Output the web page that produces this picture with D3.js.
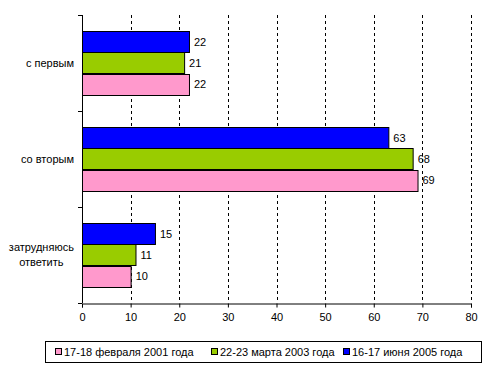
<!DOCTYPE html>
<html>
<head>
<meta charset="utf-8">
<script src="https://cdn.jsdelivr.net/npm/d3@7"></script>
<style>
  body { margin: 0; background: #fff; }
  svg { display: block; font-family: Arial, "Liberation Sans", sans-serif; }
</style>
</head>
<body>
<div id="container"></div>
<script>
const categories = [["с первым"], ["со вторым"], ["затрудняюсь", "ответить"]]
const seriesNames = ["17-18 февраля 2001 года", "22-23 марта 2003 года", "16-17 июня 2005 года"]
const values2001 = [22, 69, 10]
const values2003 = [21, 68, 11]
const values2005 = [22, 63, 15]
const xTicks = [0, 10, 20, 30, 40, 50, 60, 70, 80]
const colors = ["#ff99cc", "#99cc00", "#0000ff"]

const width = 494
const height = 371
const plot = { left: 82, right: 471, top: 15, bottom: 303 }

const series = seriesNames.map((name, i) => ({
  name, color: colors[i], values: [values2001, values2003, values2005][i]
}))

const svg = d3.select('#container').append('svg')
  .attr('width', width)
  .attr('height', height)

const xScale = d3.scaleLinear().domain([0, 80]).range([plot.left, plot.right])
const yScale = d3.scaleBand().domain(d3.range(categories.length)).range([plot.top, plot.bottom])
// bars drawn top to bottom: 2005, 2003, 2001
const inner = d3.scaleBand().domain([2, 1, 0])
  .range([yScale.bandwidth() / 6, yScale.bandwidth() * 5 / 6])

// dashed grid lines
svg.append('g')
  .selectAll('line')
  .data(xTicks.slice(1))
  .enter()
  .append('line')
  .attr('x1', d => Math.round(xScale(d)) + 0.5)
  .attr('x2', d => Math.round(xScale(d)) + 0.5)
  .attr('y1', plot.top)
  .attr('y2', plot.bottom)
  .attr('stroke', '#000')
  .attr('stroke-dasharray', '3,3')

// bars
const groups = svg.append('g')
  .selectAll('g')
  .data(categories)
  .enter()
  .append('g')
  .attr('transform', (d, i) => `translate(0, ${yScale(i)})`)

groups.each(function (cat, ci) {
  const g = d3.select(this)
  series.forEach((s, si) => {
    const v = s.values[ci]
    g.append('rect')
      .attr('x', xScale(0) + 0.5)
      .attr('y', Math.round(inner(si)) + 0.5)
      .attr('width', xScale(v) - xScale(0))
      .attr('height', Math.round(inner.bandwidth()))
      .attr('fill', s.color)
      .attr('stroke', '#000')
      .attr('stroke-width', 1)
    g.append('text')
      .attr('x', xScale(v) + 5)
      .attr('y', inner(si) + inner.bandwidth() / 2)
      .attr('dy', '0.35em')
      .attr('font-size', 11)
      .text(v)
  })
})

// x axis
const xAxis = d3.axisBottom(xScale).tickValues(xTicks).tickSize(4).tickPadding(6)
const xg = svg.append('g')
  .attr('transform', `translate(0, ${plot.bottom + 0.5})`)
  .call(xAxis)
xg.select('.domain').attr('stroke', '#000')
xg.selectAll('text').attr('font-size', 11).attr('font-family', 'Arial, "Liberation Sans", sans-serif')

// y axis line with category separator ticks
const yg = svg.append('g')
yg.append('line')
  .attr('x1', plot.left + 0.5).attr('x2', plot.left + 0.5)
  .attr('y1', plot.top).attr('y2', plot.bottom)
  .attr('stroke', '#000')
yg.selectAll('.sep')
  .data(d3.range(categories.length + 1))
  .enter()
  .append('line')
  .attr('x1', plot.left - 4).attr('x2', plot.left)
  .attr('y1', d => Math.round(plot.top + d * yScale.bandwidth()) + 0.5)
  .attr('y2', d => Math.round(plot.top + d * yScale.bandwidth()) + 0.5)
  .attr('stroke', '#000')

// category labels
categories.forEach((lines, i) => {
  const cy = yScale(i) + yScale.bandwidth() / 2
  const t = svg.append('text')
    .attr('font-size', 11)
    .attr('text-anchor', 'middle')
  lines.forEach((line, li) => {
    t.append('tspan')
      .attr('x', 0)
      .attr('y', cy + (li - (lines.length - 1) / 2) * 15)
      .attr('dy', '0.35em')
      .text(line)
  })
  // right-align the text block, lines centred inside it
  const w = t.node().getBBox().width
  t.attr('transform', `translate(${74 - w / 2}, 0)`)
})

// legend
const legend = svg.append('g')
legend.append('rect')
  .attr('x', 45.5).attr('y', 341.5)
  .attr('width', 436).attr('height', 21)
  .attr('fill', '#fff')
  .attr('stroke', '#000')
const legendX = [55, 211, 343]
series.forEach((s, i) => {
  legend.append('rect')
    .attr('x', legendX[i] + 0.5).attr('y', 348.5)
    .attr('width', 6).attr('height', 6)
    .attr('fill', s.color)
    .attr('stroke', '#000')
  legend.append('text')
    .attr('x', legendX[i] + 9)
    .attr('y', 352)
    .attr('dy', '0.35em')
    .attr('font-size', 11)
    .text(s.name)
})
</script>
</body>
</html>
